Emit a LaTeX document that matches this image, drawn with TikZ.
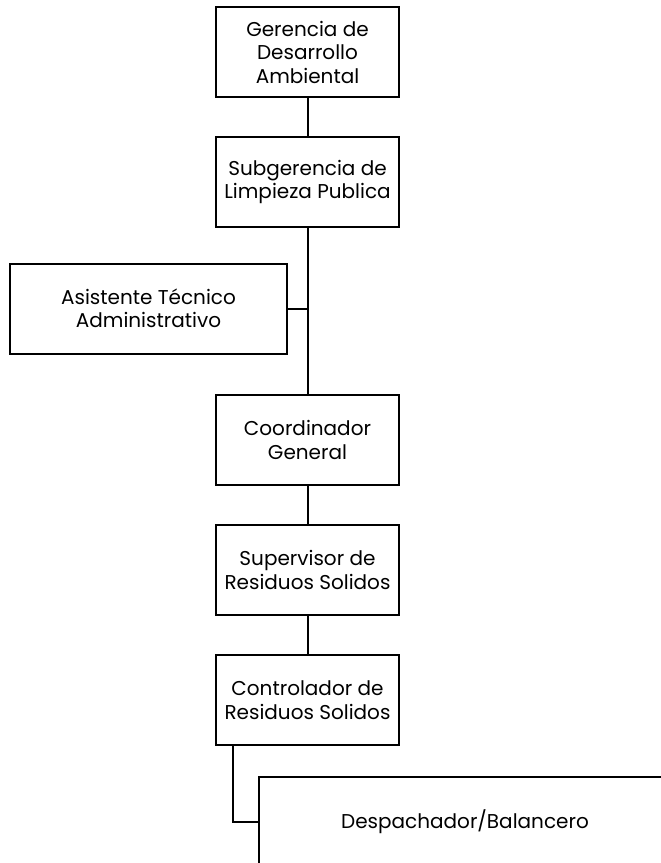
\documentclass[tikz,border=0pt]{standalone}
\usepackage{fontspec}
\setmainfont{Poppins}
\usetikzlibrary{positioning}

\begin{document}
\begin{tikzpicture}[x=1pt, y=1pt, node distance=38pt,
	box/.style={draw, line width=2pt, minimum width=183pt, minimum height=90pt, inner sep=0pt, align=center, font=\fontsize{20}{23.5}\selectfont},
	link/.style={line width=2pt}]
	\useasboundingbox (0,0) rectangle (661,-863);
	\clip (0,0) rectangle (661,-863);
	\node[box] (ger) at (307.5,-52) {Gerencia de\\Desarrollo\\Ambiental};
	\node[box] (sub) [below=of ger] {Subgerencia de\\Limpieza Publica};
	\node[box, minimum width=277pt] (asist) at (148.5,-308.5) {Asistente T\'ecnico\\Administrativo};
	\node[box] (coord) [below=166pt of sub] {Coordinador\\General};
	\node[box] (sup) [below=of coord] {Supervisor de\\Residuos Solidos};
	\node[box] (ctrl) [below=of sup] {Controlador de\\Residuos Solidos};
	\node[box, minimum width=412pt] (desp) at (465,-822) {Despachador/Balancero};
	\coordinate (ctrlout) at ([xshift=18pt]ctrl.south west);
	\draw[link] (ger) to (sub);
	\draw[link] (sub) to (coord);
	\draw[link] (asist.east) to (sub.south |- asist.east);
	\draw[link] (coord) to (sup);
	\draw[link] (sup) to (ctrl);
	\draw[link] (ctrlout) |- (desp.west);
\end{tikzpicture}
\end{document}
